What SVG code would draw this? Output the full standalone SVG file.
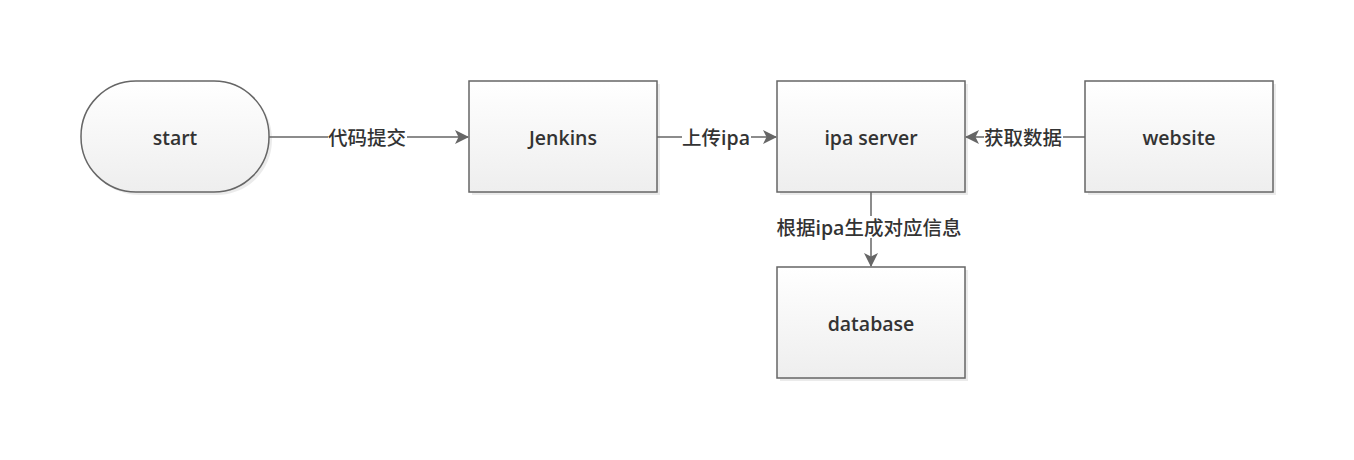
<svg xmlns="http://www.w3.org/2000/svg" width="1354" height="460" viewBox="0 0 1354 460">
<style>
.n{fill:url(#g);stroke:#666;stroke-width:1.5}
.s{fill:#000;opacity:0.08}
.t{font-family:"Open Sans","Noto Sans","Noto Sans CJK SC",sans-serif;font-size:19.5px;font-weight:600;fill:#333;text-anchor:middle;dominant-baseline:central}
.c{stroke:#666;stroke-width:1.5;fill:none}
.l{font-family:"Open Sans","Noto Sans CJK SC",sans-serif;font-size:19.5px;font-weight:500;fill:#333;text-anchor:middle;dominant-baseline:central}
.e{font-weight:600}
.lb{fill:#fff}
</style>
<defs>
<linearGradient id="g" x1="0" y1="0" x2="0" y2="1">
<stop offset="0" stop-color="#ffffff"/>
<stop offset="1" stop-color="#eeeeee"/>
</linearGradient>
<marker id="a" markerWidth="14" markerHeight="14" viewBox="0 0 14 14" refX="13" refY="7" orient="auto" markerUnits="userSpaceOnUse">
<path d="M0,0 L14,7 L0,14 L3.5,7 Z" fill="#666"/>
</marker>
</defs>
<rect width="1354" height="460" fill="#fff"/>
<g id="start">
<rect class="s" x="84" y="84" width="188" height="111" rx="55" ry="55"/>
<rect class="n" x="81" y="81" width="188" height="111" rx="55" ry="55"/>
<text class="t" x="175" y="137">start</text>
</g>
<g id="jenkins">
<rect class="s" x="472" y="84" width="188" height="111"/>
<rect class="n" x="469" y="81" width="188" height="111"/>
<text class="t" x="563" y="137">Jenkins</text>
</g>
<g id="ipaserver">
<rect class="s" x="780" y="84" width="188" height="111"/>
<rect class="n" x="777" y="81" width="188" height="111"/>
<text class="t" x="871" y="137">ipa server</text>
</g>
<g id="website">
<rect class="s" x="1088" y="84" width="188" height="111"/>
<rect class="n" x="1085" y="81" width="188" height="111"/>
<text class="t" x="1179" y="137">website</text>
</g>
<g id="database">
<rect class="s" x="780" y="270" width="188" height="111"/>
<rect class="n" x="777" y="267" width="188" height="111"/>
<text class="t" x="871" y="323">database</text>
</g>
<g id="connectors">
<path class="c" d="M269,137 L468,137" marker-end="url(#a)"/>
<path class="c" d="M657,137 L776,137" marker-end="url(#a)"/>
<path class="c" d="M1085,137 L966,137" marker-end="url(#a)"/>
<path class="c" d="M871,192 L871,266" marker-end="url(#a)"/>
<rect class="lb" x="328" y="126" width="79" height="22"/>
<text class="l" x="367" y="137">代码提交</text>
<rect class="lb" x="682" y="126" width="69" height="22"/>
<text class="l" x="716" y="137">上传<tspan class="e">ipa</tspan></text>
<rect class="lb" x="984" y="126" width="79" height="22"/>
<text class="l" x="1023" y="137">获取数据</text>
<rect class="lb" x="774" y="216" width="190" height="22"/>
<text class="l" x="869" y="227">根据<tspan class="e">ipa</tspan>生成对应信息</text>
</g>
</svg>
